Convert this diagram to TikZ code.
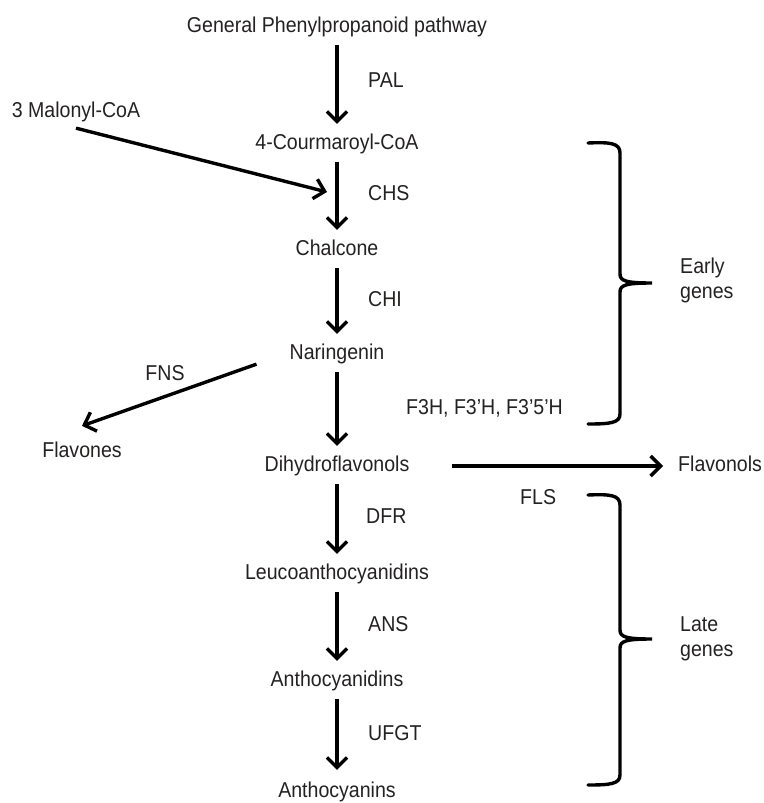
\documentclass[tikz,border=0pt]{standalone}
\usepackage{fontspec}
\setmainfont[FakeStretch=0.91]{Liberation Sans}
\usepackage{xcolor}
\definecolor{inkgray}{rgb}{0.14,0.13,0.13}
\usetikzlibrary{arrows.meta}
\usetikzlibrary{positioning}

\begin{document}
\begin{tikzpicture}[x=1pt, y=-1pt,
    every node/.style={text=inkgray, font=\fontsize{21.5}{25}\selectfont, inner sep=0pt},
    metabolite/.style={text height=15.4pt, text depth=4.5pt},
    enzyme/.style={metabolite, anchor=west},
    flow/.style={line width=3.4pt, -{Straight Barb[length=10pt, width=20pt, line width=3.4pt]}, shorten <=8pt, shorten >=10pt},
    genebrace/.style={line width=3.4pt, line cap=round}]

    \useasboundingbox (0,0) rectangle (763,803);

    % main pathway
    \node[metabolite] (gpp) at (337,27) {General Phenylpropanoid pathway};
    \node[metabolite] (cca) at (337,144) {4-Courmaroyl-CoA};
    \node[metabolite] (chal) at (337,250) {Chalcone};
    \node[metabolite] (nar) at (337,354) {Naringenin};
    \node[metabolite] (dhf) at (337,466) {Dihydroflavonols};
    \node[metabolite] (leu) at (337,574) {Leucoanthocyanidins};
    \node[metabolite] (acd) at (337,681) {Anthocyanidins};
    \node[metabolite] (acn) at (337,792) {Anthocyanins};

    % side products
    \node[metabolite] (mal) at (76,112) {3 Malonyl-CoA};
    \node[metabolite] (flv) at (82,452) {Flavones};
    \node[enzyme] (flvn) at (678,466) {Flavonols};

    % enzymes
    \node[enzyme] (pal) at (368,82) {PAL};
    \node[enzyme] (chs) at (368,195) {CHS};
    \node[enzyme] (chi) at (368,301) {CHI};
    \node[enzyme] (f3h) at (406,409) {F3H, F3'H, F3'5'H};
    \node[metabolite] (fns) at (165,375) {FNS};
    \node[enzyme] (fls) at (520,499) {FLS};
    \node[enzyme] (dfr) at (366,518) {DFR};
    \node[enzyme] (ans) at (368,626) {ANS};
    \node[enzyme] (ufgt) at (368,735) {UFGT};

    \draw[flow] (gpp) -- (cca);
    \draw[flow] (cca) -- (chal);
    \draw[flow] (chal) -- (nar);
    \draw[flow] (nar) -- (dhf);
    \draw[flow] (dhf) -- (leu);
    \draw[flow] (leu) -- (acd);
    \draw[flow, shorten >=12pt] (acd) -- (acn);

    \coordinate (chs join) at (327,192);
    \draw[flow, shorten <=0pt, shorten >=0pt] ([yshift=-6pt]mal.south) -- (chs join);
    \draw[flow, shorten <=0pt, shorten >=0pt] ([xshift=-33pt]nar.south west) -- ([yshift=16pt]flv.north);
    \draw[flow, shorten <=42pt, shorten >=15pt] (dhf.east) -- (flvn.west);

    % gene groups
    \foreach \btop/\bmid/\bbot in {143/283/424, 495/639/785}
        \draw[genebrace] (588,\btop) .. controls (610,{\btop-1}) and (620,\btop) .. (620,{\btop+10})
            -- (620,{\bmid-9}) .. controls (620,{\bmid-2}) and (626,\bmid) .. (652,\bmid)
            .. controls (626,\bmid) and (620,{\bmid+2}) .. (620,{\bmid+9})
            -- (620,{\bbot-10}) .. controls (620,{\bbot-1}) and (610,\bbot) .. (588,\bbot);

    \node[align=left, anchor=west] (early) at (680,280) {Early\\genes};
    \node[align=left, anchor=west] (late) at (680,639) {Late\\genes};

\end{tikzpicture}
\end{document}
